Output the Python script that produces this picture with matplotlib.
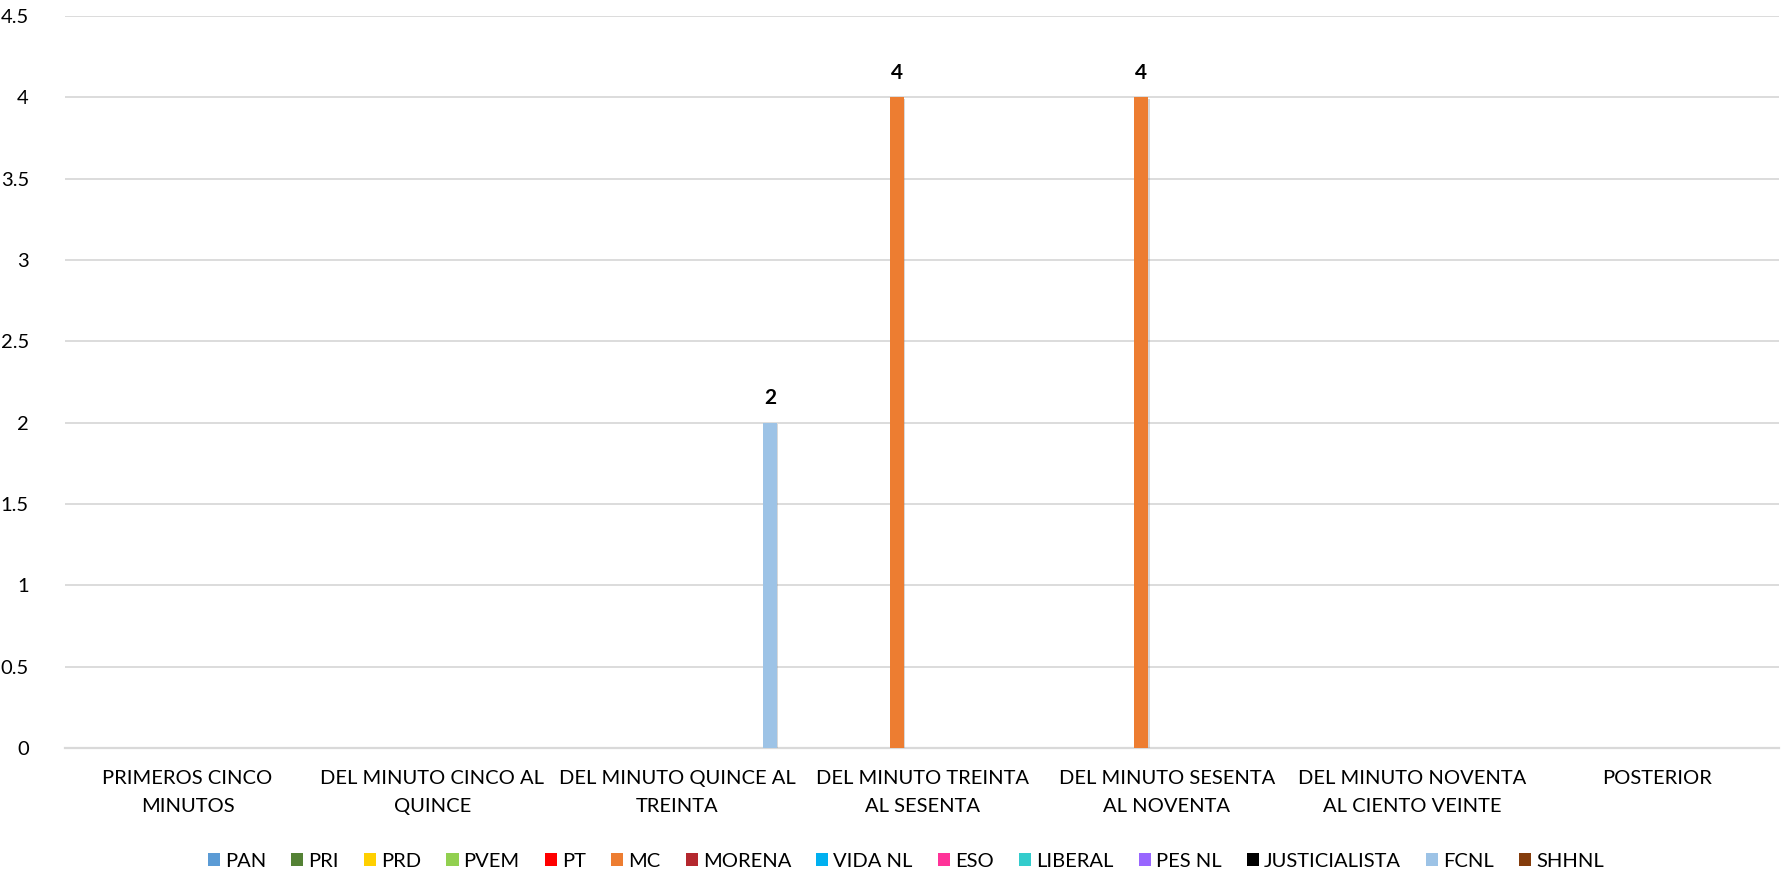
# %% Libs:
import numpy as np
import matplotlib.pyplot as plt
import matplotlib.patheffects as pe

# %% Data:
categorias = ['PRIMEROS CINCO\nMINUTOS', 'DEL MINUTO CINCO AL\nQUINCE',
              'DEL MINUTO QUINCE AL\nTREINTA', 'DEL MINUTO TREINTA\nAL SESENTA',
              'DEL MINUTO SESENTA\nAL NOVENTA', 'DEL MINUTO NOVENTA\nAL CIENTO VEINTE',
              'POSTERIOR']
partidos = ['PAN', 'PRI', 'PRD', 'PVEM', 'PT', 'MC', 'MORENA', 'VIDA NL', 'ESO',
            'LIBERAL', 'PES NL', 'JUSTICIALISTA', 'FCNL', 'SHHNL']
colores = ['#5B9BD5', '#548235', '#FFD000', '#92D050', '#FF0000', '#ED7D31',
           '#B4282E', '#00B0F0', '#FF3399', '#33CCCC', '#9966FF', '#000000',
           '#9DC3E6', '#843C0C']
# valores por partido (uno por categoria); los vacios son cero / sin dato
valores = {p: [0, 0, 0, 0, 0, 0, 0] for p in partidos}
valores['MC'] = [0, 0, 0, 4, 4, 0, 0]
valores['FCNL'] = [0, 0, 2, 0, 0, 0, 0]

# %% Plot:
plt.rcParams['font.family'] = ['Lato', 'DejaVu Sans']
fig = plt.figure(figsize=(17.83, 8.74), dpi=100)
ax = fig.add_axes([0.0365, 0.1442, 0.9613, 0.8375])

x = np.arange(len(categorias))
paso = 0.0689
ancho = 0.057
inicio = -0.5 + 0.017 + paso / 2
for i, (p, c) in enumerate(zip(partidos, colores)):
    vals = np.array(valores[p], dtype=float)
    pos = x + inicio + i * paso
    mask = vals > 0
    barras = ax.bar(pos[mask], vals[mask], width=ancho, color=c, zorder=3,
                    path_effects=[pe.SimplePatchShadow(offset=(0.8, -1.2), shadow_rgbFace='#808080', alpha=0.3),
                                  pe.Normal()])
    for b, v in zip(barras, vals[mask]):
        ax.text(b.get_x() + b.get_width() / 2, v + 0.09, '%i' % v, ha='center', va='bottom',
                fontsize=15, fontweight='bold', color='black')
    # entrada de leyenda
    ax.bar([np.nan], [np.nan], width=ancho, color=c, label=p)

ax.set_xlim(-0.5, len(categorias) - 0.5)
ax.set_ylim(0, 4.5)
ax.set_yticks(np.arange(0, 4.51, 0.5))
ax.set_yticklabels(['0', '0.5', '1', '1.5', '2', '2.5', '3', '3.5', '4', '4.5'], fontsize=14.5)
ax.set_xticks(x)
ax.set_xticklabels(categorias, fontsize=14.5, linespacing=1.75)
ax.tick_params(axis='both', length=0, colors='#000000')
ax.tick_params(axis='x', pad=16)
ax.tick_params(axis='y', pad=26)
ax.grid(axis='y', color='#D9D9D9', linewidth=1.3, zorder=0)
for s in ['top', 'right', 'left']:
    ax.spines[s].set_visible(False)
ax.spines['bottom'].set_color('#D9D9D9')
ax.spines['bottom'].set_linewidth(1.6)

fig.legend(loc='lower center', bbox_to_anchor=(0.508, -0.016), ncol=len(partidos), frameon=False,
           fontsize=14.5, handlelength=0.6, handleheight=0.6, handletextpad=0.25, columnspacing=1.25)

fig.savefig('out.png', dpi=100)
